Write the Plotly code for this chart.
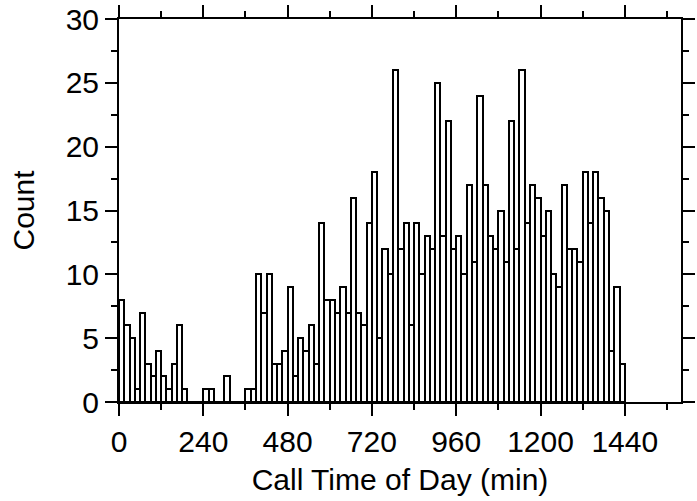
import plotly.graph_objects as go

bin_width = 15
bin_starts = list(range(0, 1440, bin_width))
counts = [
    8, 6, 5, 1, 7, 3, 2, 4, 2, 1, 3, 6, 1, 0, 0, 0,
    1, 1, 0, 0, 2, 0, 0, 0, 1, 1, 10, 7, 10, 3, 3, 4,
    9, 2, 5, 4, 6, 3, 14, 8, 8, 7, 9, 7, 16, 7, 6, 14,
    18, 5, 12, 10, 26, 12, 14, 6, 14, 10, 13, 12, 25, 13, 22, 12,
    13, 10, 17, 11, 24, 17, 13, 12, 15, 11, 22, 12, 26, 14, 17, 16,
    13, 15, 10, 9, 17, 12, 12, 11, 18, 14, 18, 16, 15, 4, 9, 3,
]
x_tick_vals = [0, 240, 480, 720, 960, 1200, 1440]
y_tick_vals = [0, 5, 10, 15, 20, 25, 30]

centers = [s + bin_width / 2 for s in bin_starts]

fig = go.Figure(
    go.Bar(
        x=centers,
        y=counts,
        width=bin_width,
        marker=dict(color="white", line=dict(color="black", width=2)),
    )
)

font = dict(family="Liberation Sans, Arial, sans-serif", size=30, color="black")

axis_common = dict(
    showline=True,
    linecolor="black",
    linewidth=2,
    mirror="allticks",
    ticks="outside",
    tickcolor="black",
    tickwidth=2,
    ticklen=12,
    showgrid=False,
    zeroline=False,
    tickfont=font,
)

fig.update_xaxes(
    range=[0, 1600],
    tickvals=x_tick_vals,
    ticktext=[str(v) for v in x_tick_vals],
    minor=dict(dtick=120, tick0=0, ticks="outside", ticklen=6, tickwidth=2, tickcolor="black", showgrid=False),
    title=dict(text="Call Time of Day (min)", font=font, standoff=12),
    **axis_common,
)
fig.update_yaxes(
    range=[0, 30],
    tickvals=y_tick_vals,
    ticktext=[str(v) for v in y_tick_vals],
    minor=dict(dtick=2.5, tick0=0, ticks="outside", ticklen=6, tickwidth=2, tickcolor="black", showgrid=False),
    title=dict(text="Count", font=font, standoff=22),
    **axis_common,
)

fig.update_layout(
    width=697,
    height=501,
    margin=dict(l=119, r=2, t=18, b=99, pad=0),
    plot_bgcolor="white",
    paper_bgcolor="white",
    bargap=0,
    showlegend=False,
    font=font,
)

fig.write_html("out.html")
